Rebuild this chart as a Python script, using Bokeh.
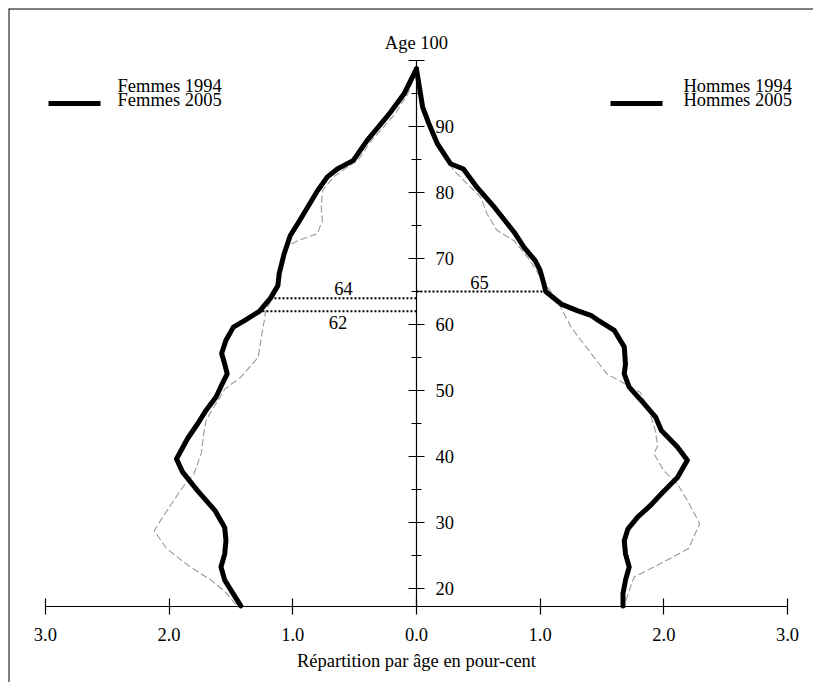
from bokeh.plotting import figure
from bokeh.models import Range1d, LinearAxis, FixedTicker, Label, Span
from bokeh.embed import file_html
from bokeh.resources import INLINE

# ---------------- data (percent of population by age) ----------------
ages_f2005 = [98.8, 95.0, 92.2, 89.7, 87.9, 84.9, 83.6, 82.4, 80.3, 77.8, 75.3, 73.5,
              70.7, 67.7, 65.9, 64.0, 62.0, 60.6, 59.6, 57.6, 55.6, 54.0, 52.5, 51.0,
              49.0, 47.0, 44.9, 42.7, 39.6, 37.6, 34.8, 31.8, 29.2, 27.2, 25.2, 23.2,
              21.2, 19.4, 17.3]
pct_f2005 = [0.00, 0.10, 0.21, 0.32, 0.40, 0.51, 0.64, 0.72, 0.80, 0.88, 0.96, 1.02,
             1.07, 1.11, 1.12, 1.18, 1.27, 1.39, 1.48, 1.54, 1.575, 1.55, 1.53, 1.57,
             1.62, 1.70, 1.77, 1.85, 1.94, 1.89, 1.77, 1.63, 1.55, 1.54, 1.55, 1.58,
             1.55, 1.49, 1.42]

ages_m2005 = [98.8, 93.0, 90.5, 87.4, 84.4, 83.6, 80.8, 77.8, 74.0, 71.7, 69.7, 68.2,
              66.2, 65.0, 63.1, 62.1, 61.4, 60.5, 59.1, 56.6, 54.0, 52.5, 50.5, 48.0,
              45.9, 43.9, 41.4, 39.4, 36.8, 34.3, 32.5, 30.8, 29.0, 27.2, 25.2, 23.2,
              21.2, 19.2, 17.3]
pct_m2005 = [0.00, 0.05, 0.10, 0.17, 0.275, 0.38, 0.49, 0.63, 0.79, 0.87, 0.96, 1.00,
             1.03, 1.045, 1.17, 1.30, 1.41, 1.48, 1.60, 1.68, 1.69, 1.68, 1.72, 1.84,
             1.935, 1.98, 2.11, 2.19, 2.11, 1.98, 1.89, 1.79, 1.71, 1.68, 1.69, 1.72,
             1.69, 1.67, 1.67]

ages_f1994 = [98.5, 95.0, 92.0, 89.7, 88.0, 85.0, 83.6, 82.4, 80.3, 77.8, 75.8, 73.8,
              72.7, 71.7, 67.0, 64.5, 62.0, 60.6, 59.6, 55.0, 52.0, 50.2, 45.5, 43.4,
              40.4, 37.3, 35.3, 32.8, 30.5, 28.7, 26.0, 23.5, 21.2, 19.5, 17.3]
pct_f1994 = [0.00, 0.07, 0.17, 0.28, 0.36, 0.47, 0.58, 0.67, 0.76, 0.77, 0.76, 0.80,
             0.96, 1.06, 1.10, 1.15, 1.22, 1.23, 1.24, 1.28, 1.42, 1.55, 1.70, 1.72,
             1.74, 1.80, 1.89, 1.98, 2.06, 2.12, 2.02, 1.85, 1.66, 1.55, 1.45]

ages_m1994 = [98.5, 93.0, 88.9, 86.0, 83.4, 79.3, 76.8, 74.3, 72.7, 70.2, 66.7, 63.6,
              59.6, 57.6, 52.5, 49.7, 47.0, 44.0, 41.6, 40.4, 37.8, 35.8, 33.3, 29.8,
              26.0, 23.5, 21.7, 20.1, 17.3]
pct_m1994 = [0.00, 0.04, 0.14, 0.22, 0.30, 0.52, 0.57, 0.65, 0.79, 0.90, 1.02, 1.14,
             1.25, 1.33, 1.54, 1.81, 1.88, 1.93, 1.95, 1.92, 2.00, 2.11, 2.19, 2.29,
             2.20, 1.95, 1.76, 1.73, 1.68]

# median ages (dotted guides): age, reach (negative = femmes side), label
median_ages = [64, 62, 65]
median_reach = [-1.18, -1.27, 1.02]
median_labels = ["64", "62", "65"]

x_ticks = [-3, -2, -1, 0, 1, 2, 3]
x_tick_labels = ["3.0", "2.0", "1.0", "0.0", "1.0", "2.0", "3.0"]
age_ticks = [20, 30, 40, 50, 60, 70, 80, 90, 100]
age_minor = [25, 35, 45, 55, 65, 75, 85, 95]
age_axis_base = 17.25
age_top = 100

# ---------------- layout ----------------
FW, FH = 805, 674          # frame size
PAD = 8                    # frame offset inside the canvas (left/top)
X0, X1 = -3.298, 3.210
Y0, Y1 = 5.675, 107.95
FONT = "Liberation Serif"
FS = "18.5px"

p = figure(width=FW + PAD, height=FH + PAD, x_range=Range1d(X0, X1),
           y_range=Range1d(Y0, Y1), x_axis_type=None, y_axis_type=None,
           output_backend="svg", toolbar_location=None,
           min_border_left=PAD, min_border_top=PAD, min_border_right=0,
           min_border_bottom=0)
p.outline_line_color = None
p.background_fill_color = "white"
p.border_fill_color = "white"

# box edges (left and top only are visible in the original scan)
p.add_layout(Span(location=X0, dimension="height", line_color="black", line_width=2))
p.add_layout(Span(location=Y1, dimension="width", line_color="black", line_width=2))


def px2x(X):
    return X0 + (X - PAD) / FW * (X1 - X0)


def px2y(Y):
    return Y1 - (Y - PAD) / FH * (Y1 - Y0)


# x axis (horizontal, at the bottom of the pyramid)
xaxis = LinearAxis(fixed_location=age_axis_base, bounds=(-3, 3),
                   ticker=FixedTicker(ticks=x_ticks, minor_ticks=[]),
                   major_label_overrides={t: l for t, l in zip(x_ticks, x_tick_labels)},
                   axis_label="Répartition par âge en pour-cent")
xaxis.major_tick_in = 8
xaxis.major_tick_out = 8
xaxis.minor_tick_in = 0
xaxis.minor_tick_out = 0
xaxis.axis_line_width = 1.2
xaxis.major_tick_line_width = 1.2
xaxis.major_label_standoff = 14
xaxis.major_label_text_font = FONT
xaxis.major_label_text_font_size = FS
xaxis.major_label_text_color = "black"
xaxis.axis_label_text_font = FONT
xaxis.axis_label_text_font_size = FS
xaxis.axis_label_text_font_style = "normal"
xaxis.axis_label_text_color = "black"
xaxis.axis_label_standoff = 6
p.add_layout(xaxis, "below")

# age axis (vertical, in the middle)
yaxis = LinearAxis(fixed_location=0, bounds=(age_axis_base, age_top),
                   ticker=FixedTicker(ticks=age_ticks, minor_ticks=age_minor),
                   major_label_overrides={age_top: ""})
yaxis.major_tick_in = 8
yaxis.major_tick_out = 8
yaxis.minor_tick_in = 5
yaxis.minor_tick_out = 5
yaxis.axis_line_width = 1.2
yaxis.major_tick_line_width = 1.2
yaxis.minor_tick_line_width = 1.2
yaxis.major_label_standoff = 11
yaxis.major_label_text_font = FONT
yaxis.major_label_text_font_size = FS
yaxis.major_label_text_color = "black"
p.add_layout(yaxis, "right")

p.add_layout(Label(x=0, y=age_top, text="Age " + str(age_top), text_align="center",
                   text_baseline="bottom", y_offset=8, text_font=FONT,
                   text_font_size=FS, text_color="black"))

# 1994 (thin grey) lines
thin = dict(line_color="#999999", line_width=1.1, line_dash="7 3")
p.line([-v for v in pct_f1994], ages_f1994, **thin)
p.line(pct_m1994, ages_m1994, **thin)

# 2005 (thick black) lines
thick = dict(line_color="black", line_width=5, line_join="round", line_cap="round")
p.line([-v for v in pct_f2005], ages_f2005, **thick)
p.line(pct_m2005, ages_m2005, **thick)

# median-age dotted guides
p.segment(x0=[0] * len(median_ages), y0=median_ages, x1=median_reach, y1=median_ages,
          line_color="black", line_width=2, line_dash="2 2")
for a, r, lab in zip(median_ages, median_reach, median_labels):
    below = a < 63
    p.add_layout(Label(x=r / 2, y=a, text=lab, text_align="center",
                       text_baseline="top" if below else "bottom",
                       y_offset=-5 if below else 3, text_font=FONT, text_font_size=FS,
                       text_color="black"))

# legends (drawn by hand, as in the original)
legend_rows = [("Femmes 1994", "Femmes 2005", 48, 100, 117),
               ("Hommes 1994", "Hommes 2005", 610, 662, 683)]
for t1, t2, lx0, lx1, tx in legend_rows:
    p.add_layout(Label(x=px2x(tx), y=px2y(85), text=t1, text_baseline="middle",
                       text_font=FONT, text_font_size=FS, text_color="black"))
    p.add_layout(Label(x=px2x(tx), y=px2y(99), text=t2, text_baseline="middle",
                       text_font=FONT, text_font_size=FS, text_color="black"))
    p.line([px2x(lx0), px2x(lx1)], [px2y(103), px2y(103)], line_color="black",
           line_width=5)

open("out.html", "w").write(file_html(p, INLINE))
